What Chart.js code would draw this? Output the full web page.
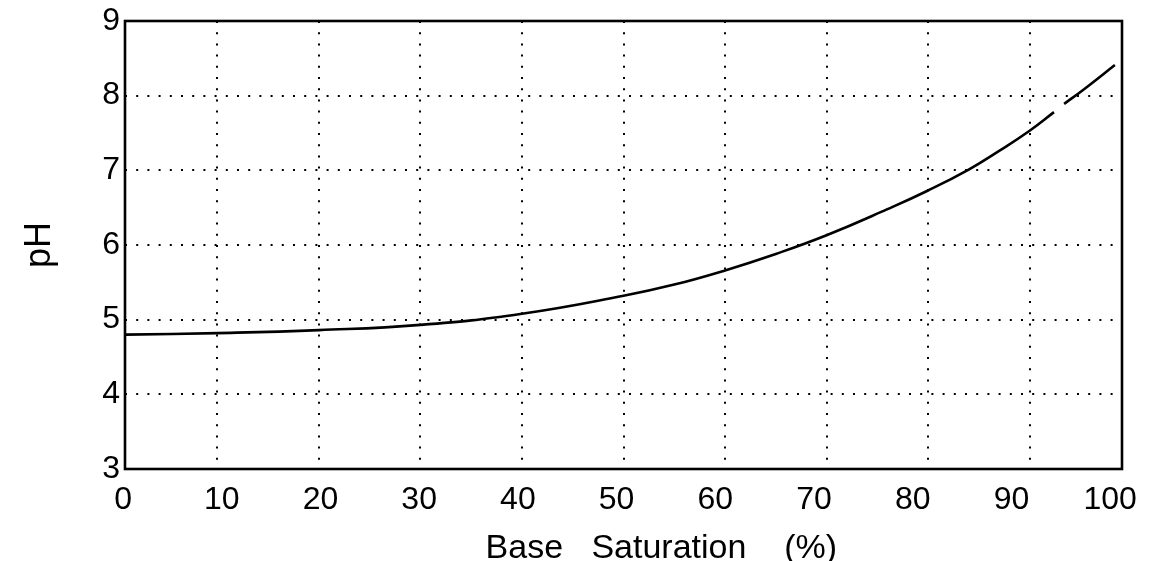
<!DOCTYPE html>
<html>
<head>
<meta charset="utf-8">
<script src="https://cdn.jsdelivr.net/npm/chart.js@4"></script>
<style>
  html, body { margin: 0; padding: 0; background: #ffffff; }
  #wrap { width: 1159px; height: 561px; }
</style>
</head>
<body>
<div id="wrap"><canvas id="c" width="1159" height="561"></canvas></div>
<script>
// ---- data ----
const baseSaturation = [1, 10, 20, 30, 40, 50, 55, 60, 65, 70, 76, 80, 84, 87, 90, 92.4, 92.9, 93.4, 95.3, 98.4];
const pHValues       = [4.80, 4.82, 4.86, 4.93, 5.08, 5.32, 5.47, 5.66, 5.88, 6.13, 6.48, 6.73, 7.01, 7.26, 7.53, 7.78, null, 7.89, 8.08, 8.41];
const xTickLabels = [0, 10, 20, 30, 40, 50, 60, 70, 80, 90, 100];
const xGridValues = [10, 20, 30, 40, 50, 60, 70, 80, 90];
const yTickValues = [3, 4, 5, 6, 7, 8, 9];
const xTitle = "Base Saturation (%)";
const yTitle = "pH";

const points = baseSaturation.map((x, i) => ({ x: x, y: pHValues[i] }));

const frame = {
  id: 'frame',
  afterDatasetsDraw(chart) {
    const a = chart.chartArea, ctx = chart.ctx;
    ctx.save();
    ctx.strokeStyle = '#000';
    ctx.lineWidth = 2.6;
    ctx.strokeRect(a.left, a.top, a.right - a.left, a.bottom - a.top);
    ctx.restore();
  }
};

const FONT = "'Liberation Sans', Arial, sans-serif";
const dotted = [2, 9.2];

new Chart(document.getElementById('c'), {
  type: 'line',
  data: {
    datasets: [{
      data: points,
      xAxisID: 'xg',
      yAxisID: 'y',
      borderColor: '#000',
      borderWidth: 2.6,
      pointRadius: 0,
      fill: false,
      spanGaps: false,
      tension: 0.45,
      cubicInterpolationMode: 'default'
    }]
  },
  options: {
    responsive: false,
    animation: false,
    events: [],
    layout: { padding: { left: 0, right: 37, top: 0, bottom: 0 } },
    plugins: { legend: { display: false }, tooltip: { enabled: false } },
    scales: {
      xg: {
        type: 'linear',
        position: 'top',
        min: 0.9,
        max: 99.1,
        afterBuildTicks: s => { s.ticks = xGridValues.map(v => ({ value: v })); },
        afterFit: s => { s.height = 17.5; },
        ticks: { display: false },
        border: { display: false, dash: dotted },
        grid: { color: '#000', lineWidth: 2, drawTicks: false, borderDash: dotted }
      },
      x: {
        type: 'linear',
        position: 'bottom',
        min: 0.2,
        max: 101.2,
        afterBuildTicks: s => { s.ticks = xTickLabels.map(v => ({ value: v })); },
        afterFit: s => { s.height = 92; },
        grid: { display: false, drawTicks: false },
        border: { display: false },
        ticks: {
          autoSkip: false,
          maxRotation: 0,
          padding: 12,
          color: '#000',
          font: { family: FONT, size: 32 },
          callback: v => String(v)
        },
        title: {
          display: true,
          text: "        " + xTitle.replace(" ", "   ").replace(" (", "    ("),
          color: '#000',
          font: { family: FONT, size: 34, lineHeight: 0.7 },
          padding: { top: 0, bottom: 0 }
        }
      },
      y: {
        type: 'linear',
        position: 'left',
        min: 3,
        max: 9,
        afterBuildTicks: s => { s.ticks = yTickValues.map(v => ({ value: v })); },
        afterFit: s => { s.width = 125; },
        border: { display: false, dash: dotted },
        grid: {
          drawTicks: false,
          lineWidth: 2,
          borderDash: dotted,
          color: c => (c.tick && (c.tick.value === 3 || c.tick.value === 9)) ? 'rgba(0,0,0,0)' : '#000'
        },
        ticks: {
          padding: 5,
          color: '#000',
          font: { family: FONT, size: 32, lineHeight: 1 },
          callback: v => String(v)
        },
        title: {
          display: true,
          text: yTitle,
          color: '#000',
          font: { family: FONT, size: 36 },
          padding: { top: 18, bottom: 0 }
        }
      }
    }
  },
  plugins: [frame]
});
</script>
</body>
</html>
